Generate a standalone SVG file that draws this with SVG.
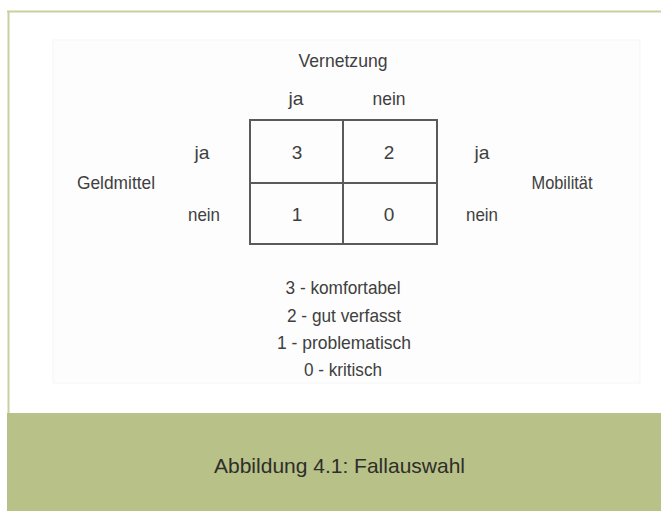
<svg xmlns="http://www.w3.org/2000/svg" width="661" height="511" viewBox="0 0 661 511">
  <style>
    .t { font-family: "Liberation Sans", Arial, sans-serif; font-size: 19px; fill: #404040; text-anchor: middle; }
    .cap { font-family: "Liberation Sans", Arial, sans-serif; font-size: 21px; fill: #2e2e2a; text-anchor: middle; }
    .grid { fill: none; stroke: #5a5a5a; stroke-width: 2; }
  </style>
  <rect x="0" y="0" width="661" height="511" fill="#ffffff"/>
  <g id="frame">
    <rect x="53" y="40" width="587" height="343" fill="#fdfdfd" stroke="#f5f5f5" stroke-width="1"/>
    <line x1="7" y1="11.5" x2="661" y2="11.5" stroke="#c9cf9e" stroke-width="2"/>
    <line x1="8.5" y1="11" x2="8.5" y2="413" stroke="#c9cf9e" stroke-width="2"/>
    <rect x="7" y="413" width="654" height="98" fill="#b8c188"/>
  </g>
  <g id="header">
    <text class="t" x="343" y="67" textLength="89" lengthAdjust="spacingAndGlyphs">Vernetzung</text>
    <text class="t" x="296" y="105" textLength="15" lengthAdjust="spacingAndGlyphs">ja</text>
    <text class="t" x="389" y="105" textLength="33" lengthAdjust="spacingAndGlyphs">nein</text>
  </g>
  <g id="rows-left">
    <text class="t" x="116" y="189" textLength="78" lengthAdjust="spacingAndGlyphs">Geldmittel</text>
    <text class="t" x="202" y="159" textLength="15" lengthAdjust="spacingAndGlyphs">ja</text>
    <text class="t" x="204" y="221" textLength="32" lengthAdjust="spacingAndGlyphs">nein</text>
  </g>
  <g id="rows-right">
    <text class="t" x="482" y="159" textLength="15" lengthAdjust="spacingAndGlyphs">ja</text>
    <text class="t" x="482" y="221" textLength="32" lengthAdjust="spacingAndGlyphs">nein</text>
    <text class="t" x="562" y="189" textLength="61" lengthAdjust="spacingAndGlyphs">Mobilität</text>
  </g>
  <g id="matrix">
    <rect class="grid" x="250" y="120" width="187" height="124"/>
    <line class="grid" x1="343" y1="120" x2="343" y2="244"/>
    <line class="grid" x1="250" y1="183" x2="437" y2="183"/>
    <text class="t" x="297" y="159">3</text>
    <text class="t" x="389" y="159">2</text>
    <text class="t" x="297" y="221">1</text>
    <text class="t" x="389" y="221">0</text>
  </g>
  <g id="legend">
    <text class="t" x="343" y="294" textLength="115" lengthAdjust="spacingAndGlyphs">3 - komfortabel</text>
    <text class="t" x="344" y="322" textLength="114" lengthAdjust="spacingAndGlyphs">2 - gut verfasst</text>
    <text class="t" x="344" y="349" textLength="134" lengthAdjust="spacingAndGlyphs">1 - problematisch</text>
    <text class="t" x="343" y="376" textLength="78" lengthAdjust="spacingAndGlyphs">0 - kritisch</text>
  </g>
  <g id="caption">
    <text class="cap" x="339.5" y="473">Abbildung 4.1: Fallauswahl</text>
  </g>
</svg>
